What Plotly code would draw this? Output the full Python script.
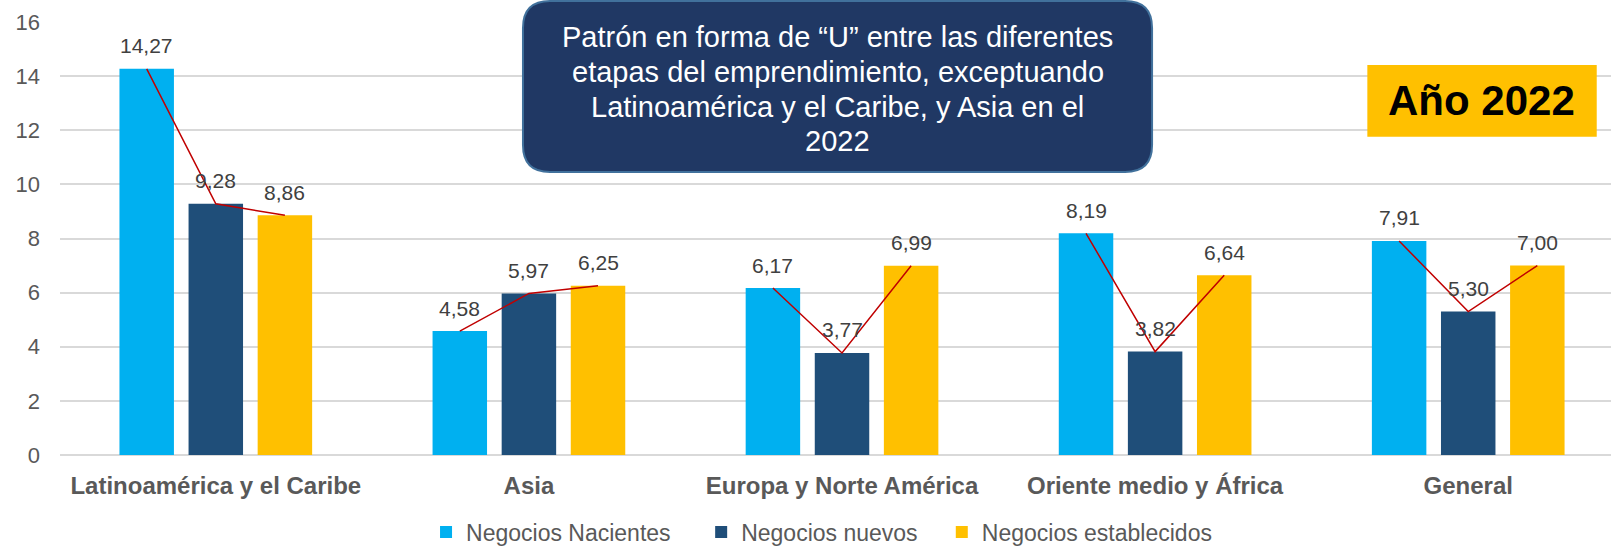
import plotly.graph_objects as go

# Regions and the three business stages (2022)
categories = ["Latinoamérica y el Caribe", "Asia", "Europa y Norte América",
              "Oriente medio y África", "General"]
series_names = ["Negocios Nacientes", "Negocios nuevos", "Negocios establecidos"]
nacientes = [14.27, 4.58, 6.17, 8.19, 7.91]
nuevos = [9.28, 5.97, 3.77, 3.82, 5.30]
establecidos = [8.86, 6.25, 6.99, 6.64, 7.00]
y_ticks = [0, 2, 4, 6, 8, 10, 12, 14, 16]
callout_lines = ["Patrón en forma de “U” entre las diferentes",
                 "etapas del emprendimiento, exceptuando",
                 "Latinoamérica y el Caribe, y Asia en el",
                 "2022"]

colors = ["#00B0F0", "#1F4E79", "#FFC000"]
series = [nacientes, nuevos, establecidos]
offsets = [-0.2207, 0.0, 0.2207]
# extra non-breaking spaces after each legend entry to widen item spacing
legend_pad = [4, 3, 0]
bar_w = 0.174
FONT = "Arial, Liberation Sans, sans-serif"

# plot area in pixels: x 60..1611, y 22..455
PT, PH = 22, 433


def py(pix):
    """pixel row -> paper y"""
    return (PT + PH - pix) / PH


fig = go.Figure()

for name, vals, col, off, pad in zip(series_names, series, colors, offsets, legend_pad):
    fig.add_trace(go.Bar(
        x=[i + off for i in range(len(categories))], y=vals, width=bar_w,
        name=name + "\u00a0" * pad, marker=dict(color=col, line=dict(width=0)),
        hoverinfo="y",
    ))

# Red connector through the bar tops of each region
for i in range(len(categories)):
    xs = [i + off for off in offsets]
    ys = [s[i] for s in series]
    fig.add_trace(go.Scatter(
        x=xs, y=ys, mode="lines", line=dict(color="#C00000", width=1.5),
        showlegend=False, hoverinfo="skip",
    ))

annotations = []
# Value labels above each bar, decimal comma
for vals, off in zip(series, offsets):
    for i, v in enumerate(vals):
        annotations.append(dict(
            x=i + off, y=v, xref="x", yref="y", text=f"{v:.2f}".replace(".", ","),
            showarrow=False, yshift=23, yanchor="middle",
            font=dict(family=FONT, size=21, color="#404040"),
        ))

# Callout text, one annotation per line
for k, line in enumerate(callout_lines):
    annotations.append(dict(
        x=0.5013, y=py(37 + 34.8 * k), xref="paper", yref="paper", showarrow=False,
        xanchor="center", yanchor="middle", text=line,
        font=dict(family=FONT, size=29, color="white"),
    ))
# Year badge text
annotations.append(dict(
    x=0.9168, y=py(101), xref="paper", yref="paper", showarrow=False,
    xanchor="center", yanchor="middle", text="<b>Año 2022</b>",
    font=dict(family=FONT, size=42, color="black"),
))

# Rounded callout box (paper coordinates)
x0, x1, y0, y1 = 0.2985, 0.7041, py(172), py(1)
rx, ry = 27 / 1551, 27 / PH
path = (f"M {x0+rx},{y1} L {x1-rx},{y1} Q {x1},{y1} {x1},{y1-ry} "
        f"L {x1},{y0+ry} Q {x1},{y0} {x1-rx},{y0} L {x0+rx},{y0} "
        f"Q {x0},{y0} {x0},{y0+ry} L {x0},{y1-ry} Q {x0},{y1} {x0+rx},{y1} Z")
shapes = [
    dict(type="path", xref="paper", yref="paper", path=path,
         fillcolor="#203864", line=dict(color="#41719C", width=2), layer="above"),
    dict(type="rect", xref="paper", yref="paper", x0=0.8429, x1=0.9908,
         y0=py(136.7), y1=py(65), fillcolor="#FFC000", line=dict(width=0), layer="above"),
]

fig.update_layout(
    width=1611, height=547,
    margin=dict(l=60, r=0, t=PT, b=547 - PT - PH, autoexpand=False),
    plot_bgcolor="white", paper_bgcolor="white",
    barmode="overlay",
    showlegend=True,
    legend=dict(orientation="h", x=0.236, xanchor="left", y=py(532), yanchor="middle",
                font=dict(family=FONT, size=23, color="#595959"),
                traceorder="normal"),
    annotations=annotations,
    shapes=shapes,
    font=dict(family=FONT),
)
fig.update_xaxes(
    range=[-0.4976, 4.456], tickmode="array", tickvals=list(range(len(categories))),
    ticktext=[f"<b>{c}</b>" for c in categories], showgrid=False, zeroline=False,
    showline=False, ticks="", ticklabelstandoff=14, automargin=False,
    tickfont=dict(family=FONT, size=24, color="#595959"),
)
fig.update_yaxes(
    range=[0, 16], tickmode="array", tickvals=y_ticks, showgrid=True,
    gridcolor="#D9D9D9", gridwidth=1.5, zeroline=True, zerolinecolor="#D9D9D9",
    zerolinewidth=1.5, showline=False, ticks="", ticklabelstandoff=19, automargin=False,
    tickfont=dict(family=FONT, size=22, color="#595959"),
)

fig.write_html("out.html")
